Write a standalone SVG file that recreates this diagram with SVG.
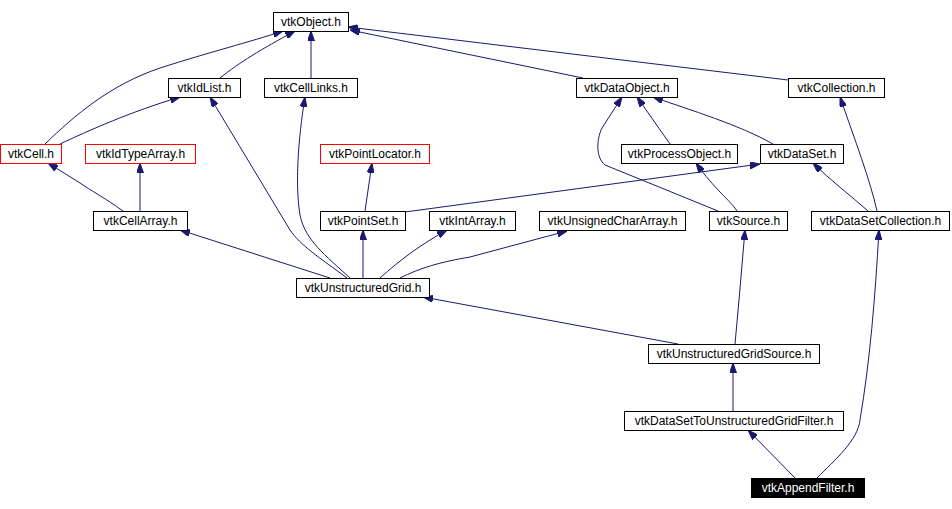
<svg xmlns="http://www.w3.org/2000/svg" width="952" height="509" viewBox="0 0 952 509">
<style>
.n rect{fill:#fff;stroke:#000;stroke-width:1}
.n.r rect{stroke:#ff0000}
.n.h rect{fill:#000}
.n text{font-family:"Liberation Sans",Arial,sans-serif;font-size:12px;text-anchor:middle;fill:#000}
.n.h text{fill:#fff}
#edges path{fill:none;stroke:#191970;stroke-width:1;marker-end:url(#a)}
</style>
<defs>
<marker id="a" viewBox="0 0 10 7" refX="10" refY="3.5" markerWidth="10" markerHeight="7" markerUnits="userSpaceOnUse" orient="auto">
<path d="M0,0 L10,3.5 L0,7 z" fill="#191970" stroke="#191970"/>
</marker>
</defs>
<rect width="952" height="509" fill="#fff"/>
<g id="edges">
<path d="M45,144 C75,115 110,85 160,68 C210,52 250,42 283,31"/>
<path d="M220,78 C240,62 260,50 295,31"/>
<path d="M311,78 L311,31"/>
<path d="M583,78 L350,30"/>
<path d="M788,80 L348,27"/>
<path d="M60,144 C90,130 130,112 180,97"/>
<path d="M347,278 C320,258 300,245 290,230 L210,97"/>
<path d="M350,278 C325,255 305,240 300,215 C295,185 298,140 305,97"/>
<path d="M123,211 C105,198 90,190 80,183 L48,163"/>
<path d="M140,211 L140,163"/>
<path d="M330,278 L180,230"/>
<path d="M365,211 L372,163"/>
<path d="M363,278 L363,230"/>
<path d="M380,278 C400,260 420,245 447,230"/>
<path d="M400,278 C420,268 440,262 470,257 L567,231"/>
<path d="M405,212 L760,164"/>
<path d="M737,211 C730,200 715,190 696,163"/>
<path d="M718,211 L605,165 C596,158 596,140 602,128 L622,97"/>
<path d="M670,144 L637,97"/>
<path d="M773,144 C740,125 690,110 653,97"/>
<path d="M868,211 C850,195 830,180 813,163"/>
<path d="M877,211 C870,180 855,140 840,97"/>
<path d="M735,344 L739,300 L745,230"/>
<path d="M678,344 L423,297"/>
<path d="M733,411 L733,363"/>
<path d="M795,478 L748,430"/>
<path d="M817,478 C835,460 858,440 860,420 C870,360 875,300 879,230"/>
</g>
<g id="vtkObject" class="n"><rect x="273.5" y="12.5" width="75" height="19"/><text x="311" y="26">vtkObject.h</text></g>
<g id="vtkIdList" class="n"><rect x="168.5" y="78.5" width="72" height="19"/><text x="204.5" y="92">vtkIdList.h</text></g>
<g id="vtkCellLinks" class="n"><rect x="264.5" y="78.5" width="93" height="19"/><text x="311" y="92">vtkCellLinks.h</text></g>
<g id="vtkDataObject" class="n"><rect x="576.5" y="78.5" width="101" height="19"/><text x="627" y="92">vtkDataObject.h</text></g>
<g id="vtkCollection" class="n"><rect x="788.5" y="78.5" width="96" height="19"/><text x="836.5" y="92">vtkCollection.h</text></g>
<g id="vtkCell" class="n r"><rect x="0.5" y="144.5" width="61" height="19"/><text x="31" y="158">vtkCell.h</text></g>
<g id="vtkIdTypeArray" class="n r"><rect x="85.5" y="144.5" width="110" height="19"/><text x="140.5" y="158">vtkIdTypeArray.h</text></g>
<g id="vtkPointLocator" class="n r"><rect x="320.5" y="144.5" width="109" height="19"/><text x="375" y="158">vtkPointLocator.h</text></g>
<g id="vtkProcessObject" class="n"><rect x="621.5" y="144.5" width="116" height="19"/><text x="679.5" y="158">vtkProcessObject.h</text></g>
<g id="vtkDataSet" class="n"><rect x="760.5" y="144.5" width="83" height="19"/><text x="802" y="158">vtkDataSet.h</text></g>
<g id="vtkCellArray" class="n"><rect x="93.5" y="211.5" width="94" height="19"/><text x="140.5" y="225">vtkCellArray.h</text></g>
<g id="vtkPointSet" class="n"><rect x="320.5" y="211.5" width="85" height="19"/><text x="363" y="225">vtkPointSet.h</text></g>
<g id="vtkIntArray" class="n"><rect x="429.5" y="211.5" width="86" height="19"/><text x="472.5" y="225">vtkIntArray.h</text></g>
<g id="vtkUnsignedCharArray" class="n"><rect x="539.5" y="211.5" width="146" height="19"/><text x="612.5" y="225">vtkUnsignedCharArray.h</text></g>
<g id="vtkSource" class="n"><rect x="709.5" y="211.5" width="78" height="19"/><text x="748.5" y="225">vtkSource.h</text></g>
<g id="vtkDataSetCollection" class="n"><rect x="811.5" y="211.5" width="138" height="19"/><text x="880.5" y="225">vtkDataSetCollection.h</text></g>
<g id="vtkUnstructuredGrid" class="n"><rect x="296.5" y="278.5" width="133" height="19"/><text x="363" y="292">vtkUnstructuredGrid.h</text></g>
<g id="vtkUnstructuredGridSource" class="n"><rect x="648.5" y="344.5" width="171" height="19"/><text x="734" y="358">vtkUnstructuredGridSource.h</text></g>
<g id="vtkDataSetToUnstructuredGridFilter" class="n"><rect x="624.5" y="411.5" width="219" height="19"/><text x="734" y="425">vtkDataSetToUnstructuredGridFilter.h</text></g>
<g id="vtkAppendFilter" class="n h"><rect x="751.5" y="478.5" width="113" height="19"/><text x="808" y="492">vtkAppendFilter.h</text></g>
</svg>
